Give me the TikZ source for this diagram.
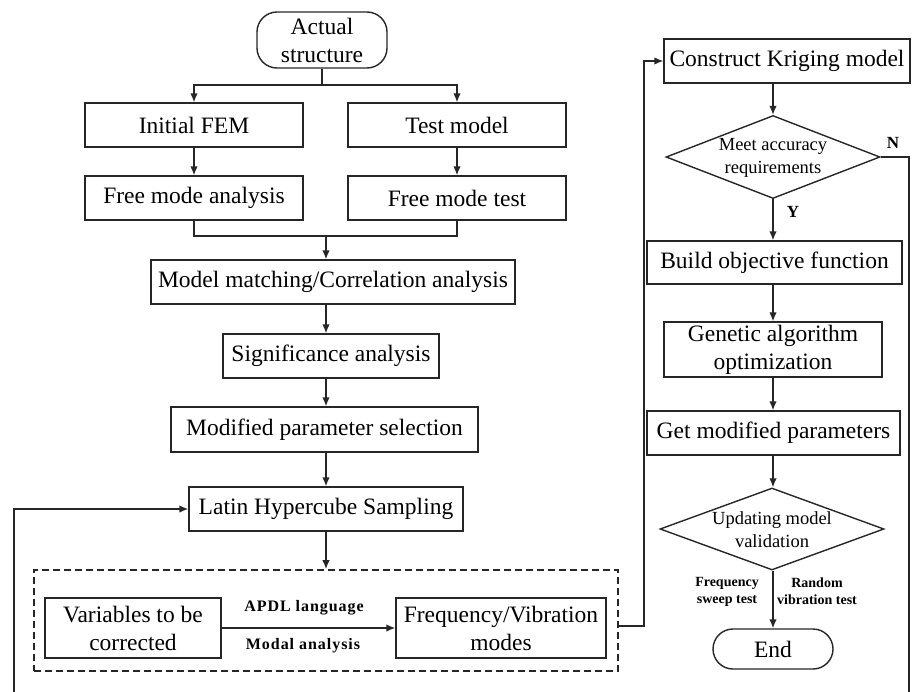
\documentclass[tikz,border=0pt]{standalone}
\usepackage{fontspec}
\setmainfont{Liberation Serif}
\usetikzlibrary{arrows.meta,shapes.geometric}
\begin{document}
\begin{tikzpicture}[x=1pt,y=-1pt,
  box/.style={draw=black!85,line width=1.4pt,rectangle,inner sep=0pt,align=center,
    font=\fontsize{23.5}{28}\selectfont},
  term/.style={box,rounded corners=20pt},
  dia/.style={draw=black!85,line width=1.4pt,diamond,inner sep=0pt},
  diatext/.style={inner sep=0pt,align=center,font=\fontsize{18.5}{23}\selectfont},
  lbl/.style={inner sep=0pt,align=center,font=\fontsize{14}{17}\selectfont\bfseries},
  wlbl/.style={inner sep=0pt,align=center,font=\fontsize{16}{18}\selectfont\bfseries\addfontfeature{LetterSpace=6}},
  yn/.style={inner sep=0pt,font=\fontsize{17}{19}\selectfont\bfseries},
  conn/.style={draw=black!85,line width=1.4pt},
  arr/.style={conn,-{Latex[length=9pt,width=7.5pt]}},
  grpbox/.style={draw=black!85,line width=1.8pt,dash pattern=on 7pt off 4pt,inner sep=0pt}]
\useasboundingbox (0,0) rectangle (912,691);
\clip (0,0) rectangle (912,691);

% left column
\node[term,minimum width=130pt,minimum height=56pt] (act) at (322,40) {Actual\\structure};
\node[box,minimum width=218pt,minimum height=44pt] (ifem) at (194,125) {Initial FEM};
\node[box,minimum width=218pt,minimum height=44pt] (tm) at (457,125) {Test model};
\node[box,minimum width=218pt,minimum height=44pt] (fma) at (194,198) {Free mode analysis};
\node[box,minimum width=218pt,minimum height=44pt] (fmt) at (457,198) {Free mode test};
\node[box,minimum width=364pt,minimum height=44pt] (mm) at (333,282) {Model matching/Correlation analysis};
\node[box,minimum width=216pt,minimum height=44pt] (sig) at (331,356) {Significance analysis};
\node[box,minimum width=307pt,minimum height=45pt] (mps) at (324.5,429.5) {Modified parameter selection};
\node[box,minimum width=274pt,minimum height=44pt] (lhs) at (326,509) {Latin Hypercube Sampling};
\node[grpbox,minimum width=584pt,minimum height=101pt] (grp) at (326,620.5) {};
\node[box,minimum width=176pt,minimum height=60pt] (var) at (133,628) {Variables to be\\corrected};
\node[box,minimum width=210pt,minimum height=60pt] (fvm) at (501,628) {Frequency/Vibration\\modes};
\node[wlbl] (apdl) at (304,608) {APDL\ language};
\node[wlbl] (modal) at (303,646) {Modal analysis};

% right column
\node[box,minimum width=246pt,minimum height=44pt] (cons) at (787,61) {Construct Kriging model};
\node[dia,minimum width=214pt,minimum height=83pt] (d1) at (773,157) {};
\node[diatext] (d1t) at (773,158) {Meet accuracy\\requirements};
\node[box,minimum width=255pt,minimum height=43pt] (bof) at (774.5,262.5) {Build objective function};
\node[box,minimum width=218pt,minimum height=55pt] (gen) at (773,349.5) {Genetic algorithm\\optimization};
\node[box,minimum width=253pt,minimum height=44pt] (gmp) at (773.5,433) {Get modified parameters};
\node[dia,minimum width=224pt,minimum height=82pt] (d2) at (772,529) {};
\node[diatext] (d2t) at (772,530) {Updating model\\validation};
\node[term,minimum width=120pt,minimum height=40pt] (end) at (773,649) {End};
\node[lbl] (fst) at (727,591.5) {Frequency\\sweep test};
\node[lbl] (rvt) at (817,591.5) {Random\\vibration test};
\node[yn] (nl) at (893,143) {N};
\node[yn] (yl) at (793,212) {Y};

% helper coordinates
\coordinate (sp) at (322,85);
\coordinate (mg) at (326,236);
\coordinate (cx) at (326,0);
\coordinate (rx) at (773,0);
\coordinate (rb) at (909,740);
\coordinate (lb) at (14,740);

% connectors
\draw[conn] (act.south) -- (sp);
\draw[arr] (sp) -| (ifem.north);
\draw[arr] (sp) -| (tm.north);
\draw[arr] (ifem) -- (fma);
\draw[arr] (tm) -- (fmt);
\draw[conn] (fma.south) |- (mg);
\draw[conn] (fmt.south) |- (mg);
\draw[arr] (mg) -- (mg |- mm.north);
\draw[arr] (mm.south -| cx) -- (sig.north -| cx);
\draw[arr] (sig.south -| cx) -- (mps.north -| cx);
\draw[arr] (mps.south -| cx) -- (lhs.north -| cx);
\draw[arr] (lhs.south -| cx) -- (grp.north -| cx);
\draw[arr] (var) -- (fvm);
\draw[arr] (grp.east |- 0,626) -- ++(25,0) |- (cons.west);
\draw[arr] (cons.south -| rx) -- (d1.north);
\draw[arr] (d1.south) -- (bof.north -| rx);
\draw[arr] (bof.south -| rx) -- (gen.north -| rx);
\draw[arr] (gen.south -| rx) -- (gmp.north -| rx);
\draw[arr] (gmp.south -| rx) -- (d2.north -| rx);
\draw[arr] (d2.south -| rx) -- (end.north -| rx);
\draw[arr] (d1.east) -| (rb) -- (lb) |- (lhs.west);
\end{tikzpicture}
\end{document}
